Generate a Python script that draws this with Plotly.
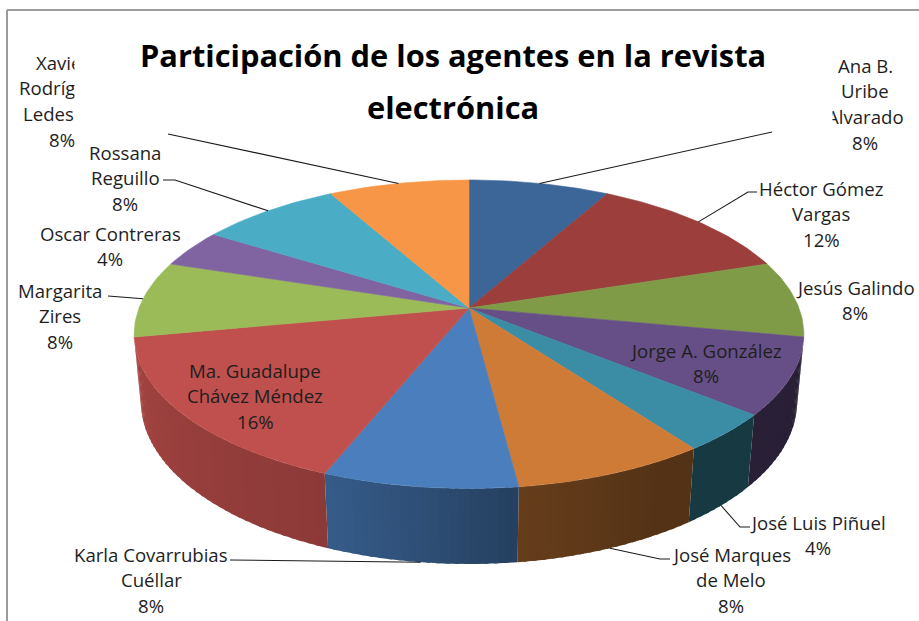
import numpy as np
import plotly.graph_objects as go

# ---------------- data ----------------
names = ["Ana B. Uribe Alvarado", "Héctor Gómez Vargas", "Jesús Galindo",
         "Jorge A. González", "José Luis Piñuel", "José Marques de Melo",
         "Karla Covarrubias Cuéllar", "Ma. Guadalupe Chávez Méndez",
         "Margarita Zires", "Oscar Contreras", "Rossana Reguillo",
         "Xavier Rodríguez Ledesma"]
label_lines = [["Ana B.", "Uribe", "Alvarado"], ["Héctor Gómez", "Vargas"],
               ["Jesús Galindo"], ["Jorge A. González"], ["José Luis Piñuel"],
               ["José Marques", "de Melo"], ["Karla Covarrubias", "Cuéllar"],
               ["Ma. Guadalupe", "Chávez Méndez"], ["Margarita", "Zires"],
               ["Oscar Contreras"], ["Rossana", "Reguillo"],
               ["Xavier", "Rodríguez", "Ledesma"]]
values = [8, 12, 8, 8, 4, 8, 8, 16, 8, 4, 8, 8]
title_lines = ["Participación de los agentes en la revista", "electrónica"]

# ---------------- style ----------------
COLORS = ["#3C6698", "#9B3E3C", "#7F9B48", "#664F86", "#3A8DA4", "#CD7B37",
          "#4A7EBC", "#C0504D", "#9BBB59", "#8064A2", "#4BACC6", "#F79646"]
# label anchor (centre x, first line y) in pixels
LABEL_POS = [(865, 65), (821, 188), (855, 287), (706, 350), (818, 522),
             (731, 554), (151, 554), (255, 370), (60, 290), (110, 233),
             (125, 152), (62, 62)]
LEADER_START = [(772, 132), (757, 192), None, None, (750, 527), (670, 559),
                (230, 560), None, (108, 296), None, (163, 180), (168, 134)]
LEADER_ELBOW = [None, (748, 192), None, None, (740, 527), (660, 559),
                None, None, None, None, (175, 180), None]
LINE_H = 25.7
LABEL_FONT = dict(family="Open Sans, sans-serif", size=18.6, color="#1e1e1e")
TITLE_FONT = dict(family="Open Sans, sans-serif", size=30.8, color="#000000")

# 3-D pie projection parameters (pixels)
CX, CY = 469.0, 308.0
FOCAL, DIST = 1729.0, 5.24
ALPHA = np.arcsin(0.454)
DEPTH = 0.2305
W, HGT = 919, 621


def project(theta, yw):
    x = np.sin(theta)
    z = -np.cos(theta)
    ca, sa = np.cos(ALPHA), np.sin(ALPHA)
    yv = yw * ca - z * sa
    d = DIST - (yw * sa + z * ca)
    return CX + FOCAL * x / d, CY - FOCAL * yv / d


def hex_rgb(h):
    h = h.lstrip("#")
    return tuple(int(h[i:i + 2], 16) for i in (0, 2, 4))


def shade(col, f):
    r, g, b = hex_rgb(col)
    return "rgb(%d,%d,%d)" % (min(255, r * f), min(255, g * f), min(255, b * f))


total = float(sum(values))
fr = np.array(values) / total
ends = np.cumsum(fr) * 2 * np.pi
starts = ends - fr * 2 * np.pi

vis_lo = np.arccos(-1.0 / (DIST * np.cos(ALPHA)))
vis_hi = 2 * np.pi - vis_lo

SHADE_ANG = [102, 150, 172, 186, 201, 230, 258]
SHADE_F = [0.40, 0.41, 0.50, 0.62, 0.73, 0.79, 0.86]

fig = go.Figure()

# side walls (visible part only), split into overlapping thin strips for a gradient
for i in range(len(values)):
    a = max(starts[i], vis_lo)
    b = min(ends[i], vis_hi)
    if b <= a:
        continue
    n = int(np.ceil(np.degrees(b - a) / 1.5))
    edges = np.linspace(a, b, n + 1)
    over = np.radians(0.6)
    for k in range(n):
        e1 = edges[k + 1] + (over if k < n - 1 else 0.0)
        t = np.linspace(edges[k], e1, 4)
        tx, ty = project(t, 0.0)
        bx, by = project(t[::-1], -DEPTH)
        f = np.interp(np.degrees((edges[k] + edges[k + 1]) / 2), SHADE_ANG, SHADE_F)
        c = shade(COLORS[i], f)
        fig.add_trace(go.Scatter(x=np.concatenate([tx, bx, tx[:1]]),
                                 y=np.concatenate([ty, by, ty[:1]]),
                                 mode="lines", fill="toself", fillcolor=c,
                                 line=dict(color=c, width=0),
                                 hoverinfo="skip", showlegend=False))

# top faces
for i in range(len(values)):
    t = np.linspace(starts[i], ends[i], max(8, int(np.degrees(ends[i] - starts[i]))))
    ax, ay = project(t, 0.0)
    xs = np.concatenate([[CX], ax, [CX]])
    ys = np.concatenate([[CY], ay, [CY]])
    fig.add_trace(go.Scatter(x=xs, y=ys, mode="lines", fill="toself",
                             fillcolor=COLORS[i],
                             line=dict(color=COLORS[i], width=0.6),
                             name=names[i], text="%s: %d%%" % (names[i], round(fr[i] * 100)),
                             hoverinfo="text", showlegend=False))

# leader lines
for i in range(len(values)):
    if LEADER_START[i] is None:
        continue
    mid = (starts[i] + ends[i]) / 2
    if vis_lo <= mid <= vis_hi:
        ex, ey = project(mid, -DEPTH)
    else:
        ex, ey = project(mid, 0.0)
    pts = [LEADER_START[i]]
    if LEADER_ELBOW[i] is not None:
        pts.append(LEADER_ELBOW[i])
    pts.append((float(ex), float(ey)))
    fig.add_trace(go.Scatter(x=[p[0] for p in pts], y=[p[1] for p in pts],
                             mode="lines", line=dict(color="#1a1a1a", width=1.1),
                             hoverinfo="skip", showlegend=False))

annotations = []
for i in range(len(values)):
    lx, ly = LABEL_POS[i]
    lines = label_lines[i] + ["%d%%" % round(fr[i] * 100)]
    for j, s in enumerate(lines):
        annotations.append(dict(x=lx, y=ly + j * LINE_H, xref="x", yref="y",
                                text=s, showarrow=False, xanchor="center",
                                yanchor="middle", font=LABEL_FONT))

# title box (white background hides parts of the neighbouring labels)
annotations.append(dict(x=453.5, y=74, xref="x", yref="y", text=" ",
                        showarrow=False, width=757, height=108, borderpad=0,
                        bgcolor="white", xanchor="center", yanchor="middle"))
for j, s in enumerate(title_lines):
    annotations.append(dict(x=453, y=55 + j * 52, xref="x", yref="y",
                            text="<b>%s</b>" % s, showarrow=False,
                            xanchor="center", yanchor="middle", font=TITLE_FONT))

fig.update_layout(
    width=W, height=HGT, margin=dict(l=0, r=0, t=0, b=0),
    paper_bgcolor="white", plot_bgcolor="white", showlegend=False,
    xaxis=dict(range=[0, W], visible=False, fixedrange=True),
    yaxis=dict(range=[HGT, 0], visible=False, fixedrange=True),
    annotations=annotations,
    shapes=[dict(type="line", xref="x", yref="y", x0=7, y0=10, x1=W, y1=10,
                 line=dict(color="#9C9C9C", width=2)),
            dict(type="line", xref="x", yref="y", x0=7, y0=10, x1=7, y1=HGT,
                 line=dict(color="#9C9C9C", width=2))],
)

fig.write_html("out.html", config={"displayModeBar": False},
               post_script="document.body.style.margin='0';")
